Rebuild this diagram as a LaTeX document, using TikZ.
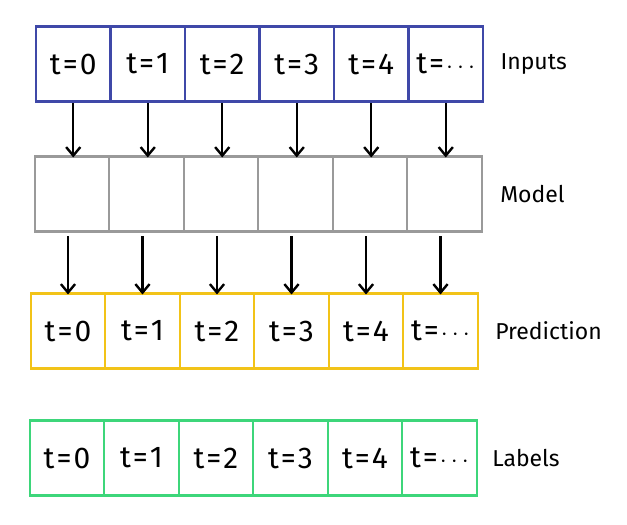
\documentclass[tikz,border=0pt]{standalone}
\usepackage{fontspec}
\setmainfont{Fira Sans}
\usetikzlibrary{positioning,arrows.meta}

\definecolor{inblue}{HTML}{3F48A8}
\definecolor{mdlgray}{HTML}{9A9A9A}
\definecolor{predyellow}{HTML}{F2C318}
\definecolor{labgreen}{HTML}{3DD67A}

\begin{document}
\begin{tikzpicture}[
    x=1pt, y=1pt,
    font=\fontsize{30}{34}\selectfont,
    cell/.style={draw, line width=2.4pt, minimum width=74.5pt, minimum height=75pt,
                 inner sep=0pt, outer sep=0pt},
    inbox/.style={cell, draw=inblue},
    mdlbox/.style={cell, draw=mdlgray},
    predbox/.style={cell, draw=predyellow},
    labbox/.style={cell, draw=labgreen},
    rowlbl/.style={anchor=west, font=\fontsize{23}{27}\selectfont},
    flow/.style={-{Straight Barb[length=3mm,width=5mm]}, line width=2.4pt},
  ]
  \useasboundingbox (0,0) rectangle (627,525);

  % --- Rows of time steps -------------------------------------------------
  \foreach \i/\tv in {0/0,1/1,2/2,3/3,4/4,5/{$\cdots$}} {
    \node[inbox]   (in\i)   at (73.25+74.5*\i, 461) {t\kern2pt=\kern2pt\tv};
    \node[mdlbox]  (mdl\i)  at (72+74.5*\i, 331) {};
    \node[predbox] (pred\i) at (68+74.5*\i, 194) {t\kern2pt=\kern2pt\tv};
    \node[labbox]  (lab\i)  at (67+74.5*\i, 67) {t\kern2pt=\kern2pt\tv};
  }

  % --- Row labels -----------------------------------------------------------
  \node[rowlbl] (inlbl)   at ([xshift=14pt]in5.east)   {Inputs};
  \node[rowlbl] (mdllbl)  at ([xshift=15pt]mdl5.east)  {Model};
  \node[rowlbl] (predlbl) at ([xshift=14pt]pred5.east) {Prediction};
  \node[rowlbl] (lablbl)  at ([xshift=12pt]lab5.east)  {Labels};

  % --- Arrows -------------------------------------------------------------
  \foreach \i in {0,...,5} {
    \draw[flow] ([yshift=-2pt]in\i.south) -- ([yshift=-1pt]in\i.south |- mdl\i.north);
    \draw[flow] ([yshift=-5pt]pred\i.north |- mdl\i.south) -- ([yshift=-1pt]pred\i.north);
  }

\end{tikzpicture}
\end{document}
